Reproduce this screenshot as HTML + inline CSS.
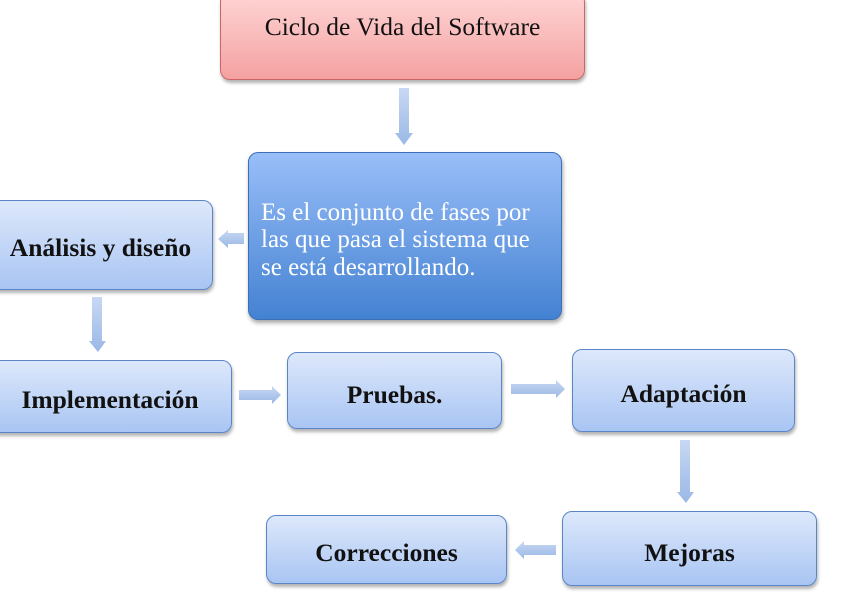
<!DOCTYPE html>
<html><head><meta charset="utf-8"><style>
body{margin:0;width:860px;height:597px;background:#fff;position:relative;overflow:hidden;font-family:"Liberation Serif",serif}
.b{position:absolute;box-sizing:border-box;border-radius:10px;display:flex;align-items:center;justify-content:center;text-align:center;white-space:nowrap}
.lb{background:linear-gradient(#dde8fb,#a9c5f3);border:1.5px solid #5a86c8;box-shadow:1px 3px 3px rgba(0,0,0,.3);font-weight:bold;font-size:25.5px;color:#111}
svg{position:absolute;left:0;top:0}
</style></head><body>
<div class="b" style="left:220px;top:-8px;width:365px;height:88px;background:linear-gradient(#ffd5d5,#f4a1a1);border:1.5px solid #c66;box-shadow:1px 3px 3px rgba(0,0,0,.3);font-size:25.5px;color:#111;align-items:flex-start;padding-top:19px">Ciclo de Vida del Software</div>
<div class="b" style="left:248px;top:152px;width:314px;height:168px;background:linear-gradient(#99bef8,#4482d2);border:1.5px solid #3b6fb8;box-shadow:1px 3px 4px rgba(0,0,0,.35);color:#fff;font-size:25px;text-align:left;justify-content:flex-start;padding:0 12px;line-height:27.5px;padding-top:8px">Es el conjunto de fases por<br>las que pasa el sistema que<br>se está desarrollando.</div>
<div class="b lb" style="left:-12px;top:200px;width:225px;height:90px;padding-top:5px">Análisis y diseño</div>
<div class="b lb" style="left:-12px;top:360px;width:244px;height:73px;padding-top:6px">Implementación</div>
<div class="b lb" style="left:287px;top:352px;width:215px;height:77px;padding-top:8px">Pruebas.</div>
<div class="b lb" style="left:572px;top:349px;width:223px;height:83px;padding-top:6px">Adaptación</div>
<div class="b lb" style="left:562px;top:511px;width:255px;height:75px;padding-top:8px">Mejoras</div>
<div class="b lb" style="left:266px;top:515px;width:241px;height:69px;padding-top:6px">Correcciones</div>
<svg width="860" height="597">
<defs><linearGradient id="g" x1="0" y1="0" x2="0" y2="1"><stop offset="0" stop-color="#c8d8f3"/><stop offset="1" stop-color="#9ab8e6"/></linearGradient></defs>
<g fill="url(#g)">
<polygon points="399,88 409,88 409,133 413,133 404,145 395,133 399,133"/>
<polygon points="244,233 244,244 228,244 228,248 218,239 228,230 228,233"/>
<polygon points="92,297 102,297 102,341 106,341 98,352 89,341 92,341"/>
<polygon points="239,390 272,390 272,386 281,395 272,404 272,400 239,400"/>
<polygon points="511,384 556,384 556,380 565,389 556,398 556,394 511,394"/>
<polygon points="680,440 690,440 690,492 694,492 686,503 677,492 680,492"/>
<polygon points="556,545 556,555 524,555 524,559 515,550 524,541 524,545"/>
</g>
</svg>
</body></html>
